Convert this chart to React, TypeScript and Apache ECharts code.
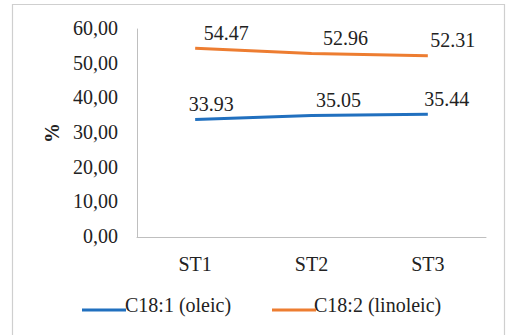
import React, { useEffect, useRef } from "react";
import * as echarts from "echarts";

const categories = ["ST1", "ST2", "ST3"];
const oleic = [33.93, 35.05, 35.44];
const linoleic = [54.47, 52.96, 52.31];
const seriesNames = ["C18:1 (oleic)", "C18:2 (linoleic)"];
const yTickValues = [0, 10, 20, 30, 40, 50, 60];
const yAxisName = "%";

const oleicLabelDx = [16, 27, 19];
const linoleicLabelDx = [31, 34, 25];

const FONT = "20px Liberation Serif";
const BOLD_FONT = "bold 20px Liberation Serif";
const TEXT = "#222";
const BLUE = "#2170BF";
const ORANGE = "#ED7D31";

export default function App() {
  const ref = useRef<HTMLDivElement>(null);
  useEffect(() => {
    const chart = echarts.init(ref.current!, null, { renderer: "svg" });
    const legendBase = {
      top: 303,
      itemWidth: 44,
      itemHeight: 3,
      icon: "rect",
      formatter: () => " ",
      textStyle: { fontSize: 4 },
    };
    chart.setOption({
      animation: false,
      backgroundColor: "#fff",
      grid: { left: 137, right: 24, top: 29, bottom: 98, containLabel: false },
      legend: [
        { ...legendBase, left: 77, data: [seriesNames[0]] },
        { ...legendBase, left: 267, data: [seriesNames[1]] },
      ],
      xAxis: {
        type: "category",
        data: categories,
        boundaryGap: true,
        axisLine: { lineStyle: { color: "#bfbfbf", width: 1 } },
        axisTick: { show: false },
        axisLabel: { show: false },
      },
      yAxis: {
        type: "value",
        min: yTickValues[0],
        max: yTickValues[yTickValues.length - 1],
        interval: yTickValues[1] - yTickValues[0],
        axisLine: { show: true, lineStyle: { color: "#bfbfbf", width: 1 } },
        axisTick: { show: false },
        splitLine: { show: false },
        axisLabel: { show: false },
      },
      series: [
        {
          name: seriesNames[0],
          type: "line",
          data: oleic,
          symbol: "none",
          itemStyle: { color: BLUE },
          lineStyle: { color: BLUE, width: 3 },
        },
        {
          name: seriesNames[1],
          type: "line",
          data: linoleic,
          symbol: "none",
          itemStyle: { color: ORANGE },
          lineStyle: { color: ORANGE, width: 3 },
        },
      ],
    });

    const els: any[] = [
      {
        type: "rect",
        shape: { x: 12.5, y: 4.5, width: 492, height: 345 },
        style: { fill: "none", stroke: "#cfcfcf", lineWidth: 1.2 },
        silent: true,
      },
    ];
    const txt = (text: string, x: number, y: number, align: string, font = FONT, rotation = 0) => ({
      type: "text",
      x,
      y,
      rotation,
      silent: true,
      style: { text, font, fill: TEXT, align, verticalAlign: "middle" },
    });

    const axisY = chart.convertToPixel({ yAxisIndex: 0 }, 0) as number;
    const axisX = chart.convertToPixel({ xAxisIndex: 0 }, categories[0]) as number;
    const gridLeft = 137;

    yTickValues.forEach((v) => {
      const y = chart.convertToPixel({ yAxisIndex: 0 }, v) as number;
      els.push(txt(v.toFixed(2).replace(".", ","), gridLeft - 19, y - 1, "right"));
    });
    categories.forEach((c) => {
      const x = chart.convertToPixel({ xAxisIndex: 0 }, c) as number;
      els.push(txt(c, x, axisY + 27, "center"));
    });
    const top = chart.convertToPixel({ yAxisIndex: 0 }, yTickValues[yTickValues.length - 1]) as number;
    els.push(txt(yAxisName, 52, (top + axisY) / 2, "center", BOLD_FONT, Math.PI / 2));

    const addLabels = (vals: number[], dx: number[]) => {
      vals.forEach((v, i) => {
        const p = chart.convertToPixel({ gridIndex: 0 }, [i, v]) as number[];
        els.push(txt(v.toFixed(2), p[0] + dx[i], p[1] - 15.5, "center"));
      });
    };
    addLabels(oleic, oleicLabelDx);
    addLabels(linoleic, linoleicLabelDx);

    els.push(txt(seriesNames[0], 125, 305, "left"));
    els.push(txt(seriesNames[1], 314, 305, "left"));
    void axisX;

    chart.setOption({ graphic: { elements: els } });
    return () => chart.dispose();
  }, []);
  return (
    <div
      ref={ref}
      style={{ position: "absolute", left: 0, top: 0, width: 510, height: 335 }}
    />
  );
}
